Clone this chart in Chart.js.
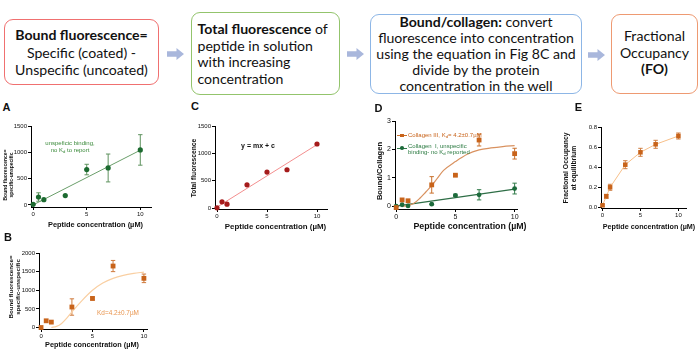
<!DOCTYPE html>
<html><head><meta charset="utf-8">
<script src="https://cdn.jsdelivr.net/npm/chart.js@4.4.1/dist/chart.umd.min.js"></script>
<style>
html,body{margin:0;padding:0;background:#fff;}
#root{position:relative;width:700px;height:360px;overflow:hidden;font-family:"Liberation Sans",Arial,sans-serif;color:#111;}
.box{position:absolute;box-sizing:border-box;border:1.3px solid;border-radius:9px;}
.bt{position:absolute;font-family:Lato,"Open Sans",sans-serif;font-size:14.1px;line-height:16.7px;color:#111;white-space:nowrap;}
.t{position:absolute;white-space:nowrap;transform:translate(-50%,-50%);line-height:1.2;text-align:center;}
.rot{transform:translate(-50%,-50%) rotate(-90deg);}
canvas{position:absolute;}
sub{font-size:70%;vertical-align:-0.25em;line-height:0;}
</style></head>
<body><div id="root"></div>
<script>
// ---------------- data ----------------
const conc = [0, 0.5, 1, 3, 5, 7, 10];
const xTicks = [0, 5, 10];
// A: bound fluorescence on collagen I (unspecific)
const boundA = [10, 150, 100, 177, 672, 702, 1045];
const errA = [0, 80, 0, 0, 100, 265, 290];
const fitAx = [0, 10];
const fitAy = [0, 1040];
const yTicksA = [0, 500, 1000, 1500];
// B: bound fluorescence on collagen III
const boundB = [0, 180, 145, 550, 780, 1650, 1320];
const errB = [0, 0, 0, 220, 40, 150, 115];
const curveBx = [1, 1.5, 2, 2.5, 3, 4, 5, 6, 7, 8, 9, 10];
const curveBy = [0, 30, 110, 250, 420, 730, 1000, 1195, 1320, 1400, 1452, 1488];
const yTicksB = [0, 500, 1000, 1500, 2000];
// C: total fluorescence
const totalC = [6, 116, 73, 427, 659, 701, 1171];
const fitCx = [0, 10];
const fitCy = [20, 1160];
const yTicksC = [0, 500, 1000, 1500];
// D: bound / collagen
const col3D = [-0.05, 0.22, 0.19, 0.75, 1.09, 2.33, 1.85];
const errCol3D = [0, 0, 0, 0.29, 0.03, 0.21, 0.19];
const col1D = [0, 0.05, 0.01, 0.07, 0.38, 0.40, 0.62];
const errCol1D = [0, 0, 0, 0.02, 0.04, 0.18, 0.19];
const curveDx = [0.5, 1, 1.5, 2, 2.5, 3, 3.5, 4, 5, 6, 7, 8, 9, 10];
const curveDy = [0, 0.02, 0.1, 0.28, 0.5, 0.72, 1.0, 1.26, 1.57, 1.83, 1.98, 2.05, 2.1, 2.13];
const fitDx = [0, 10];
const fitDy = [0, 0.6];
const yTicksD = [0, 1, 2, 3];
// E: fractional occupancy
const foE = [0.017, 0.107, 0.197, 0.423, 0.547, 0.627, 0.71];
const errE = [0.01, 0.02, 0.03, 0.04, 0.04, 0.04, 0.03];
const yTicksE = [0, 0.2, 0.4, 0.6, 0.8];

// ---------------- helpers ----------------
const root = document.getElementById('root');
function el(cls, html, css){const d=document.createElement('div');d.className=cls;d.innerHTML=html;Object.assign(d.style,css||{});root.appendChild(d);return d;}
function txt(html,cx,cy,css,rot){return el('t'+(rot?' rot':''),html,Object.assign({left:cx+'px',top:cy+'px'},css||{}));}
function pts(xs,ys){return xs.map((x,i)=>({x:x,y:ys[i]}));}

// flow boxes
function box(l,t,r,b,color){el('box','',{left:l+'px',top:t+'px',width:(r-l)+'px',height:(b-t)+'px',borderColor:color});}
box(4,19,159,85,'#f07070');
box(191,12,340,95,'#93c46c');
box(370,14,582,94,'#8db6e6');
box(611,14,698,94,'#ee9a72');
el('bt','<b>Bound fluorescence=</b><br>Specific (coated) -<br>Unspecific (uncoated)',{left:'4px',width:'155px',top:'26px',textAlign:'center',lineHeight:'17.6px'});
el('bt','<b>Total fluorescence</b> of<br>peptide in solution<br>with increasing<br>concentration',{left:'197.5px',top:'21px',lineHeight:'16.5px'});
el('bt','<b>Bound/collagen:</b> convert<br>fluorescence into concentration<br>using the equation in Fig 8C and<br>divide by the protein<br>concentration in the well',{left:'370px',width:'212px',top:'13.5px',textAlign:'center',lineHeight:'16px'});
el('bt','Fractional<br>Occupancy<br><b>(FO)</b>',{left:'611px',width:'87px',top:'28px',textAlign:'center',lineHeight:'16.7px'});
function arrow(x,y){
  const d=document.createElement('div');d.style.cssText='position:absolute;left:'+x+'px;top:'+(y-6)+'px;width:17px;height:12px;';
  d.innerHTML='<svg width="17" height="12"><polygon points="0,3.2 9.5,3.2 9.5,0 17,6 9.5,12 9.5,8.8 0,8.8" fill="#a9b7dc"/></svg>';
  root.appendChild(d);
}
arrow(167,51.7); arrow(347,51.7); arrow(588,52.5);

// error bars plugin (uses library scales)
const errorBars={id:'errorBars',beforeDatasetsDraw(chart){
  const {ctx,scales:{x,y}}=chart;
  chart.data.datasets.forEach(ds=>{
    if(!ds.errors)return;
    ctx.save();ctx.strokeStyle=ds.errorColor;ctx.lineWidth=1;
    ds.data.forEach((p,i)=>{const e=ds.errors[i];if(!e)return;
      const px=x.getPixelForValue(p.x),y1=y.getPixelForValue(p.y+e),y2=y.getPixelForValue(p.y-e),c=2.2;
      ctx.beginPath();ctx.moveTo(px,y1);ctx.lineTo(px,y2);
      ctx.moveTo(px-c,y1);ctx.lineTo(px+c,y1);ctx.moveTo(px-c,y2);ctx.lineTo(px+c,y2);ctx.stroke();});
    ctx.restore();});
}};

function axis(min,max,ticks,fmt,fs,fit,isY){
  return {type:'linear',min:min,max:max,
    afterBuildTicks:s=>{s.ticks=ticks.map(v=>({value:v}));},
    afterFit:s=>{if(isY)s.width=fit;else s.height=fit;},
    border:{display:true,color:'#000',width:1},
    grid:{display:true,drawOnChartArea:false,drawTicks:true,tickLength:3,color:'#000',lineWidth:1},
    ticks:{font:{size:fs,family:'Liberation Sans'},color:'#111',padding:1,callback:v=>fmt(v),autoSkip:false,maxRotation:0}};
}
function panel(area,wy,hx,xr,yr,yt,yfmt,fs,datasets){
  const padTop=10,padRight=6;
  const left=area[0]-wy,top=area[1]-padTop;
  const w=area[2]+padRight-left,h=area[3]+hx-top;
  const c=document.createElement('canvas');
  c.width=w;c.height=h;c.style.left=left+'px';c.style.top=top+'px';c.style.width=w+'px';c.style.height=h+'px';
  root.appendChild(c);
  return new Chart(c,{type:'scatter',data:{datasets:datasets},
    options:{responsive:false,animation:false,events:[],devicePixelRatio:1,
      layout:{padding:{top:padTop,right:padRight,left:0,bottom:0}},
      plugins:{legend:{display:false},tooltip:{enabled:false}},
      scales:{x:axis(xr[0],xr[1],xTicks,v=>String(v),fs,hx,false),y:axis(yr[0],yr[1],yt,yfmt,fs,wy,true)}},
    plugins:[errorBars]});
}
function pointsDs(ys,color,style,r,errs,errColor){
  return {data:pts(conc,ys),pointStyle:style,pointRadius:r,pointBackgroundColor:color,pointBorderColor:color,pointBorderWidth:0,
    showLine:false,clip:false,errors:errs,errorColor:errColor};
}
function lineDs(xs,ys,color,w,smooth){
  return {data:pts(xs,ys),showLine:true,pointRadius:0,borderColor:color,borderWidth:w||1,
    tension:smooth?0.4:0,cubicInterpolationMode:smooth?'monotone':'default',clip:false};
}
const ORANGE='#c8631a', GREEN='#1c6a30', RED='#a51b1b';
const intf=v=>String(v);

// A
panel([31,126,151,207],31,14,[-0.2,11],[-40,1500],yTicksA,intf,6,[
  pointsDs(boundA,GREEN,'circle',2.6,errA,'#5f935f'),
  lineDs(fitAx,fitAy,'#6a9e6a',1)]);
// B
panel([39,253,147,329],30,14,[-0.2,10.3],[-40,2000],yTicksB,intf,6,[
  pointsDs(boundB,ORANGE,'rect',3.4,errB,'#cf7a3c'),
  lineDs(curveBx,curveBy,'#f9cfa2',1.2,true)]);
// C
panel([215,126,327,209],25,14,[-0.2,11],[-15,1500],yTicksC,intf,6,[
  pointsDs(totalC,RED,'circle',2.6,null,null),
  lineDs(fitCx,fitCy,'#f38e8e',1)]);
// D
panel([395,121,517,209],22,14,[-0.1,10.2],[-0.1,3],yTicksD,intf,7,[
  pointsDs(col3D,ORANGE,'rect',3.4,errCol3D,'#c9702c'),
  pointsDs(col1D,'#1d6b3c','circle',2.4,errCol1D,'#2f7a48'),
  lineDs(curveDx,curveDy,'#d99260',1.2,true),
  lineDs(fitDx,fitDy,'#2e6e46',1.2)]);
// E
panel([601,127,686,208],25,14,[-0.2,11],[-0.01,0.8],yTicksE,v=>v.toFixed(1),6,[
  pointsDs(foE,ORANGE,'rect',3.2,errE,'#cf7d40'),
  lineDs(conc,foE,'#f7bf89',1)]);

// panel letters
const L={fontWeight:'bold',fontSize:'11px'};
txt('A',6.5,107.5,L);txt('B',8,237.5,L);txt('C',195,107,L);txt('D',378.5,109,L);txt('E',578.5,108,L);

// axis titles
const xt='Peptide concentration (µM)';
txt(xt,95.5,225,{fontWeight:'bold',fontSize:'7.4px'});
txt(xt,92,345,{fontWeight:'bold',fontSize:'7.3px'});
txt(xt,275.5,226.7,{fontWeight:'bold',fontSize:'7.9px'});
txt(xt,470,226,{fontWeight:'bold',fontSize:'8.8px'});
txt(xt,649,226.7,{fontWeight:'bold',fontSize:'7.2px'});
txt('Bound fluorescence=<br>specific-unspecific',8,175,{fontWeight:'bold',fontSize:'5px',lineHeight:'6px'},true);
txt('Bound fluorescence=<br>specific-unspecific',13.8,286.5,{fontWeight:'bold',fontSize:'6.2px',lineHeight:'7px'},true);
txt('Total fluorescence',194,167.5,{fontWeight:'bold',fontSize:'6.7px'},true);
txt('Bound/Collagen',380,171,{fontWeight:'bold',fontSize:'7.6px'},true);
txt('Fractional Occupancy<br>at equilibrium',568.5,167.5,{fontWeight:'bold',fontSize:'6.8px',lineHeight:'7.5px'},true);

// annotations
txt('unspeficic binding,<br>no K<sub>d</sub> to report',70,147,{color:'#3a8a3a',fontSize:'6px',lineHeight:'6.6px'});
txt('Kd=4.2±0.7µM',118,313,{color:'#e8954f',fontSize:'6.4px'});
txt('y = mx + c',258,146,{fontWeight:'bold',fontSize:'7px'});
// D legend
el('','',{position:'absolute',left:'397px',top:'135.2px',width:'10px',height:'1px',background:'#c9702c'});
el('','',{position:'absolute',left:'400.2px',top:'133.9px',width:'3.6px',height:'3.6px',background:ORANGE});
el('','',{position:'absolute',left:'397px',top:'147.8px',width:'10px',height:'1px',background:'#2f7a48'});
el('','',{position:'absolute',left:'400.3px',top:'146.4px',width:'3.6px',height:'3.6px',borderRadius:'50%',background:'#1d6b3c'});
el('','Collagen III, K<sub>d</sub>= 4.2±0.7µM',{position:'absolute',left:'408px',top:'132px',fontSize:'6px',lineHeight:'7px',color:ORANGE,whiteSpace:'nowrap'});
el('','Collagen &nbsp;I, unspecific<br>binding- no K<sub>d</sub> reported',{position:'absolute',left:'408px',top:'142.5px',fontSize:'6px',lineHeight:'6.3px',color:'#2a7a40',whiteSpace:'nowrap'});
</script></body></html>
